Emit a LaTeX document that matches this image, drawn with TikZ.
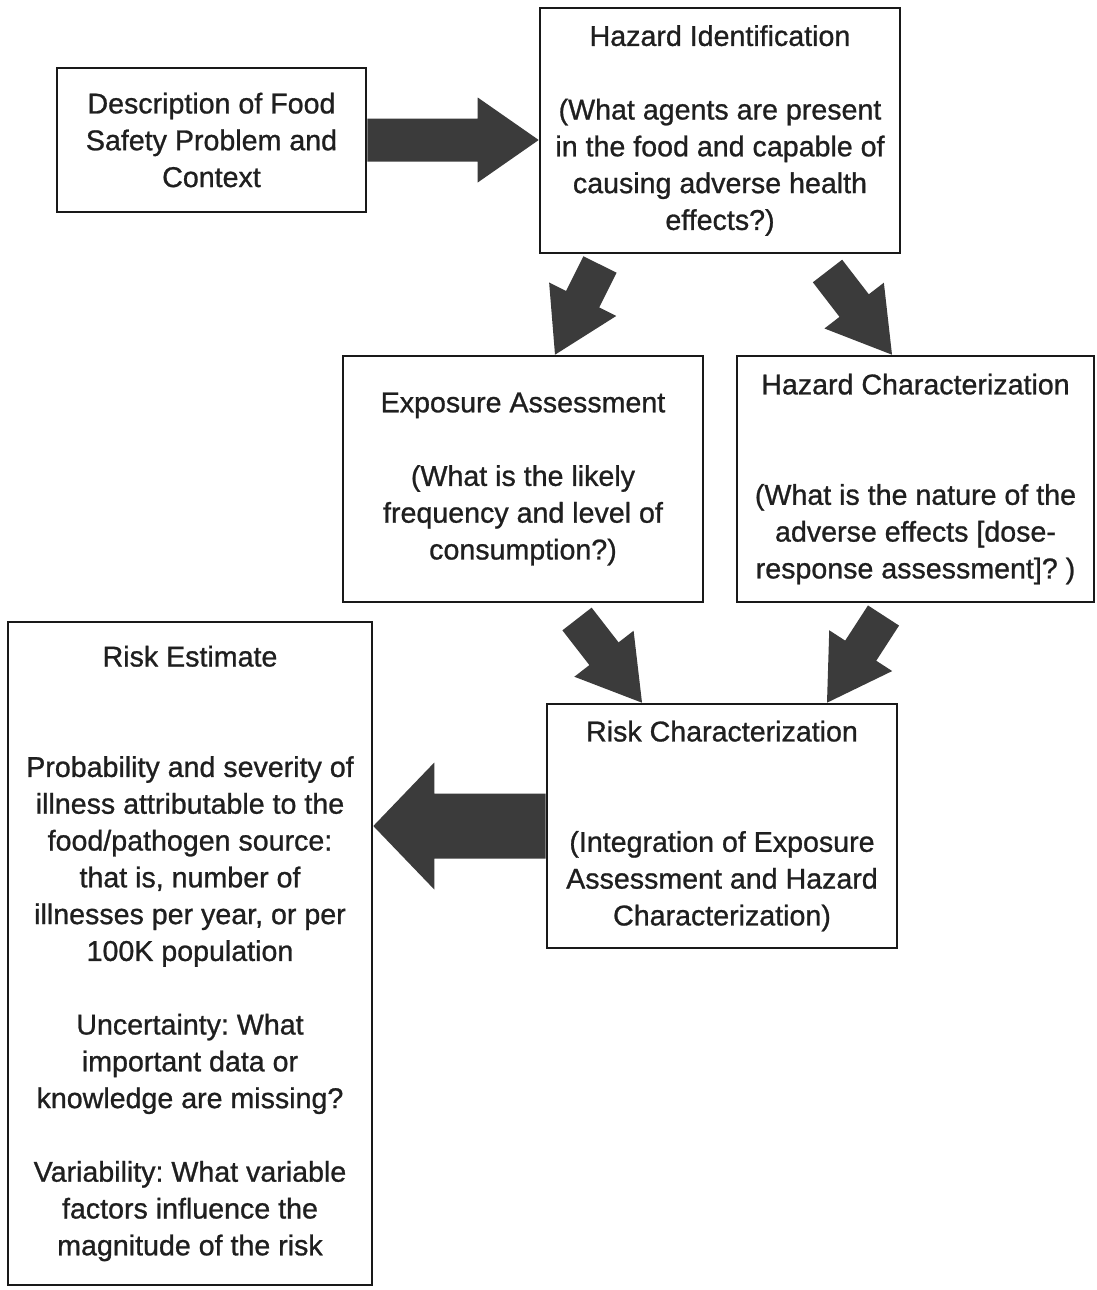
\documentclass[tikz,border=0pt]{standalone}
\usepackage{fontspec}
\setmainfont{Liberation Sans}[FakeBold=0.9]
\frenchspacing
\usetikzlibrary{calc}

% Block arrow: tail, tip, shaft half-width, head half-width, head length
\newcommand\fatarrow[5]{%
  \coordinate (fa-h) at ($(#2)!#5!(#1)$);
  \fill[arrowfill] ($(#1)!#3!90:(#2)$) -- ($(fa-h)!#3!90:(#2)$)
    -- ($(fa-h)!#4!90:(#2)$) -- (#2) -- ($(fa-h)!#4!-90:(#2)$)
    -- ($(fa-h)!#3!-90:(#2)$) -- ($(#1)!#3!-90:(#2)$) -- cycle;
}

\begin{document}
\begin{tikzpicture}[x=1pt,y=-1pt,
  box/.style={draw=black!90, line width=2.6pt, align=center, inner sep=0pt,
    text=black!88, font=\fontsize{28.6}{36.8}\selectfont},
  arrowfill/.style={fill=black!77}]
\useasboundingbox[fill=white] (0,0) rectangle (1096,1290);

\node[box, minimum width=309pt, minimum height=144pt] (desc) at (211.5,140)
  {Description of Food\\Safety Problem and\\Context};

\node[box, minimum width=360pt, minimum height=245pt] (hid) at (720,130.5)
  {Hazard Identification\\[36.8pt]
   (What agents are present\\in the food and capable of\\causing adverse health\\effects?)};

\node[box, minimum width=360pt, minimum height=246pt] (ea) at (523,479)
  {Exposure Assessment\\[36.8pt]
   (What is the likely\\frequency and level of\\consumption?)};

\node[box, minimum width=357pt, minimum height=246pt] (hc) at (915.5,479)
  {Hazard Characterization\\[73.6pt]
   (What is the nature of the\\adverse effects [dose-\\response assessment]? )};

\node[box, minimum width=350pt, minimum height=244pt] (rc) at (722,826)
  {Risk Characterization\\[73.6pt]
   (Integration of Exposure\\Assessment and Hazard\\Characterization)};

\node[box, minimum width=364pt, minimum height=663pt] (re) at (190,953.5)
  {Risk Estimate\\[73.6pt]
   Probability and severity of\\illness attributable to the\\food/pathogen source:\\
   that is, number of\\illnesses per year, or per\\100K population\\[36.8pt]
   Uncertainty: What\\important data or\\knowledge are missing?\\[36.8pt]
   Variability: What variable\\factors influence the\\magnitude of the risk};

% arrow ends
\coordinate (d2hTip) at (hid.west |- desc.east);
\coordinate (r2eTip) at (re.east |- rc.west);
\coordinate (aTail) at (600,264.5);
\coordinate (aTip) at (555,0 |- ea.north);
\coordinate (bTail) at (827.5,271);
\coordinate (bTip) at (892,0 |- hc.north);
\coordinate (cTail) at (577,619);
\coordinate (cTip) at (642,0 |- rc.north);
\coordinate (dTail) at (883.5,615.5);
\coordinate (dTip) at (827,0 |- rc.north);

\fatarrow{desc.east}{d2hTip}{21.5pt}{42.5pt}{61pt}
\fatarrow{rc.west}{r2eTip}{32.5pt}{63.5pt}{61pt}
\fatarrow{aTail}{aTip}{18.5pt}{37.5pt}{62pt}
\fatarrow{bTail}{bTip}{18.5pt}{37.5pt}{62pt}
\fatarrow{cTail}{cTip}{18.5pt}{37.5pt}{62pt}
\fatarrow{dTail}{dTip}{18.5pt}{37.5pt}{62pt}
\end{tikzpicture}
\end{document}
